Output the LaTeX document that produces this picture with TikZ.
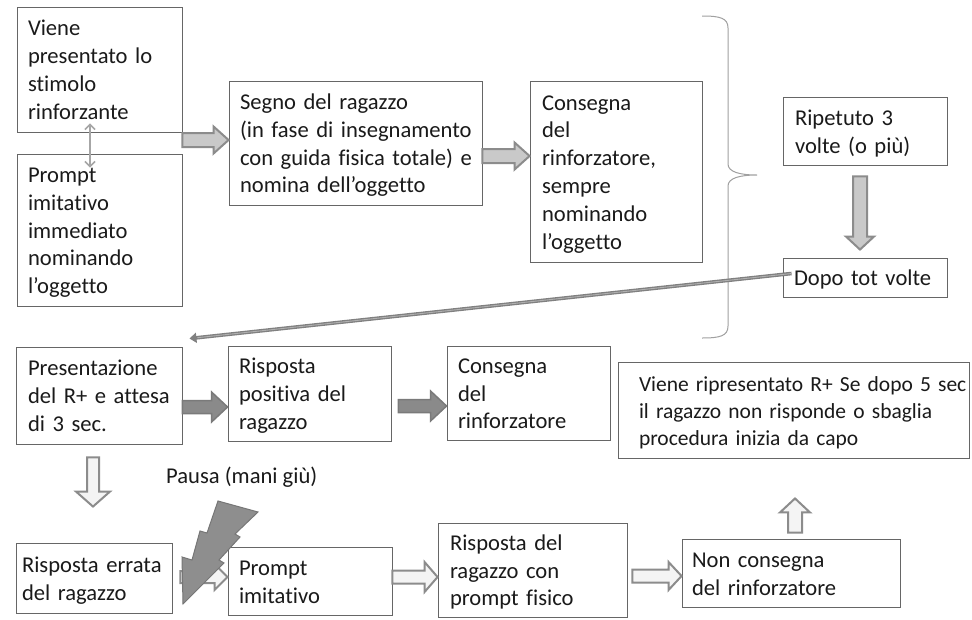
\documentclass[tikz,border=0pt]{standalone}
\usepackage{fontspec}
\setmainfont{Carlito}[Ligatures={NoCommon}]
\usetikzlibrary{calc,arrows.meta}
\definecolor{txt}{HTML}{1A1A1A}
\definecolor{bord}{HTML}{666666}
\definecolor{arrb}{HTML}{8C8C8C}
\definecolor{lfill}{HTML}{C9C9C9}
\definecolor{dfill}{HTML}{8A8A8A}
\definecolor{dbord}{HTML}{7A7A7A}
\definecolor{wfill}{HTML}{F4F4F4}
\definecolor{boltf}{HTML}{8E8E8E}
\definecolor{boltb}{HTML}{767676}
\definecolor{brc}{HTML}{A0A0A0}
\definecolor{lnk}{HTML}{808080}
\definecolor{lnkin}{HTML}{B0B0B0}
\definecolor{dbl}{HTML}{A6A6A6}
\newcommand\lstrut{\rule[-5.8pt]{0pt}{27.8pt}}
\newcommand\kstrut{\rule[-5.6pt]{0pt}{27pt}}
% horizontal block arrow: style, start, tip, half body, half head, head length
\newcommand\harr[6]{\draw[#1] ($(#2)+(0,-#4)$) -- ($(#3)+(-#6,-#4)$) -- ($(#3)+(-#6,-#5)$) -- (#3) -- ($(#3)+(-#6,#5)$) -- ($(#3)+(-#6,#4)$) -- ($(#2)+(0,#4)$) -- cycle;}
% vertical block arrow: style, start, tip, half body, half head, signed head offset
\newcommand\varr[6]{\draw[#1] ($(#2)+(-#4,0)$) -- ($(#3)+(-#4,#6)$) -- ($(#3)+(-#5,#6)$) -- (#3) -- ($(#3)+(#5,#6)$) -- ($(#3)+(#4,#6)$) -- ($(#2)+(#4,0)$) -- cycle;}
% box: name, cx, cy, width, height, xsep, text width
\newcommand\bx[7]{\node[box, minimum width=#4pt, minimum height=#5pt, inner xsep=#6pt, text width=#7pt] (#1) at (#2,#3)}
\begin{document}
\begin{tikzpicture}[x=1pt,y=-1pt,
  box/.style={draw=bord, line width=0.9pt, fill=white, text=txt, align=left, inner ysep=0pt,
    font=\fontsize{22.6}{27.8}\selectfont,
    execute at begin node={\hyphenpenalty=10000\exhyphenpenalty=10000\lstrut},
    execute at end node={\lstrut}},
  kbox/.style={box, font=\fontsize{21.5}{27}\selectfont,
    execute at begin node={\hyphenpenalty=10000\exhyphenpenalty=10000\kstrut},
    execute at end node={\kstrut}},
  larrow/.style={fill=lfill, draw=arrb, line width=2pt},
  darrow/.style={fill=dfill, draw=dbord, line width=1.5pt},
  warrow/.style={fill=wfill, draw=arrb, line width=2pt},
  lbl/.style={font=\fontsize{22.6}{27.8}\selectfont, text=txt, inner sep=0pt}]
\fill[white] (0,0) rectangle (972,619);
\useasboundingbox (0,0) rectangle (972,619);

% boxes
\bx{A}{99.5}{69.5}{165}{125}{11}{143}{Viene\\presentato~lo\\stimolo\\rinforzante};
\bx{B}{99.5}{230}{165}{152}{11}{143}{Prompt\\imitativo\\immediato\\nominando\\l’oggetto};
\bx{C}{355.5}{143}{253}{124}{11}{231}{Segno~del~ragazzo\\(in~fase~di~insegnamento\\con~guida~fisica~totale)~e\\nomina~dell’oggetto};
\bx{D}{616}{171.5}{172}{181}{12}{148}{Consegna\\del\\rinforzatore,\\sempre\\nominando\\l’oggetto};
\bx{R}{865}{131}{164}{68}{12}{140}{Ripetuto~3\\volte~(o~più)};
\bx{T}{865}{277.5}{164}{39}{11}{142}{Dopo~tot~volte};
\bx{E}{99}{395.5}{166}{97}{12}{142}{Presentazione\\del~R+~e~attesa\\di~3~sec.};
\bx{F}{309.5}{393.5}{163}{95}{11}{141}{Risposta\\positiva~del\\ragazzo};
\bx{L}{528.5}{393}{163}{94}{11}{141}{Consegna\\del\\rinforzatore};
\node[kbox, minimum width=351pt, minimum height=96pt, inner xsep=21pt, text width=309pt] (K) at (793.5,410) {Viene~ripresentato~R+~Se~dopo~5~sec\\il~ragazzo~non~risponde~o~sbaglia\\procedura~inizia~da~capo};
\bx{G}{94}{578}{156}{70}{6}{144}{Risposta~errata\\del~ragazzo};
\bx{H}{310}{581}{164}{68}{11}{142}{Prompt\\imitativo};
\bx{I}{532.5}{570}{189}{94}{12}{165}{Risposta~del\\ragazzo~con\\prompt~fisico};
\bx{J}{791}{573}{218}{68}{10}{198}{Non~consegna\\del~rinforzatore};

\node[lbl, anchor=base west] (pausa) at (166,483) {Pausa (mani giù)};

% brace
\draw[brc, line width=1pt] (702,16) .. controls (720,16) and (728,18) .. (728,28) -- (728,164)
  .. controls (728,172) and (740,175) .. (757,175) .. controls (740,175) and (728,178) .. (728,186)
  -- (728,326) .. controls (728,336) and (720,338) .. (702,338);

% connector coordinates
\coordinate (ac1) at (A.east |- 0,140);
\coordinate (ac2) at (C.west |- 0,140);
\coordinate (cd1) at (C.east |- 0,156);
\coordinate (cd2) at (D.west |- 0,156);
\coordinate (rt1) at ($(R.south)+(-5,11)$);
\coordinate (rt2) at ($(T.north)+(-5,-8)$);
\coordinate (ef1) at (E.east |- 0,407);
\coordinate (ef2) at (F.west |- 0,407);
\coordinate (fl0) at (F.east |- 0,406);
\coordinate (fl1) at ($(fl0)+(7,0)$);
\coordinate (fl2) at (L.west |- 0,406);
\coordinate (eg1) at ($(E.south)+(-6,13)$);
\coordinate (eg2) at ($(G.north)+(-1,-36)$);
\coordinate (gh0) at (G.east |- 0,577);
\coordinate (gh1) at ($(gh0)+(8,0)$);
\coordinate (gh2) at (H.west |- 0,577);
\coordinate (hi1) at (H.east |- 0,577);
\coordinate (hi2) at (I.west |- 0,577);
\coordinate (ij0) at (I.east |- 0,576);
\coordinate (ij1) at ($(ij0)+(5,0)$);
\coordinate (ij2) at (J.west |- 0,576);
\coordinate (jk1) at ($(J.north)+(4,-6)$);
\coordinate (jk2) at ($(K.south)+(1.5,40)$);
\coordinate (ab1) at ($(A.south)+(-9.5,-9)$);
\coordinate (ab2) at ($(B.north)+(-9.5,14)$);
\coordinate (lk1) at ($(T.west)+(9,-4)$);
\coordinate (lk2) at ($(E.north east)+(7,-8)$);

% block arrows
\harr{larrow}{ac1}{ac2}{7}{13.5}{15}
\harr{larrow}{cd1}{cd2}{7}{13.5}{15}
\varr{larrow}{rt1}{rt2}{7}{14}{-13}
\harr{darrow}{ef1}{ef2}{6.5}{15}{16}
\harr{darrow}{fl1}{fl2}{6.5}{15}{16}
\varr{warrow}{eg1}{eg2}{6}{17}{-15}
\harr{warrow}{gh1}{gh2}{6}{13}{13}
\harr{warrow}{hi1}{hi2}{6.5}{15}{13}
\harr{warrow}{ij1}{ij2}{6.5}{14}{13}
\varr{warrow}{jk1}{jk2}{7}{15}{14}

% double arrow between first two boxes
\draw[dbl, line width=1.5pt, {Straight Barb[length=5pt,width=10pt]}-{Straight Barb[length=5pt,width=10pt]}] (ab1) -- (ab2);

% long link
\draw[lnk, line width=3.6pt, -{Triangle[length=7pt,width=10pt]}] (lk1) -- (lk2);
\draw[lnkin, line width=0.9pt, shorten >=8pt] (lk1) -- (lk2);

% lightning bolt
\draw[fill=boltf, draw=boltb, line width=1pt, line join=miter] (218,501) -- (258,512) -- (235,534) -- (240,537) -- (219,560) -- (224,563) -- (183,604) -- (182,557) -- (192,560) -- (200,531) -- (207,533) -- cycle;
\end{tikzpicture}
\end{document}
